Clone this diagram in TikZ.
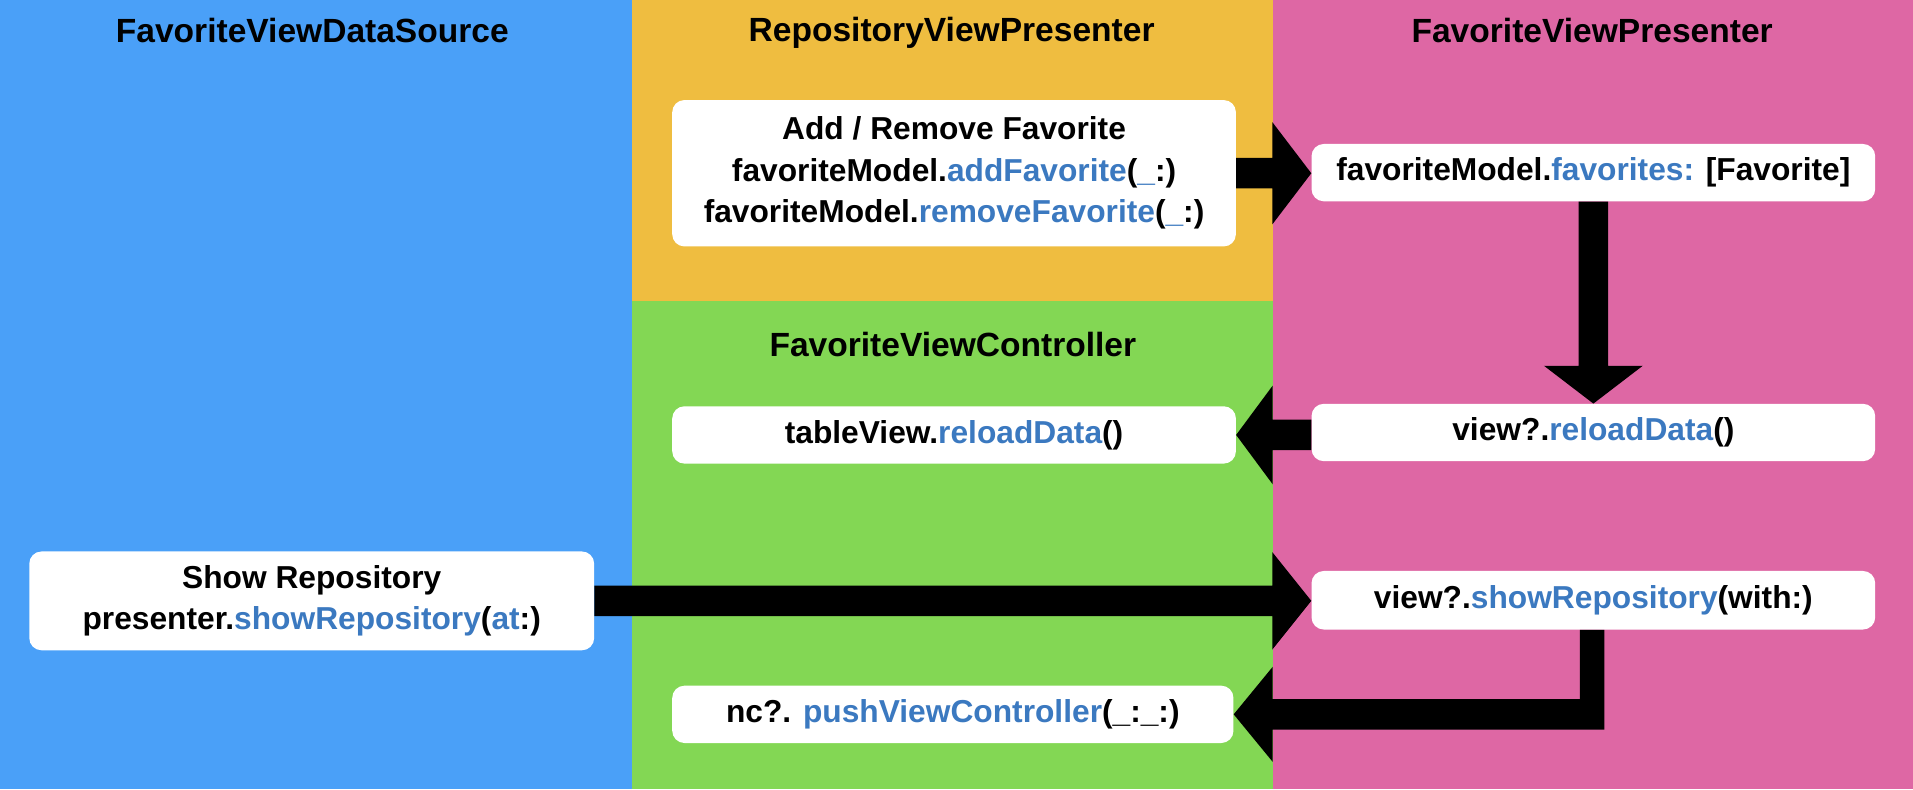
\documentclass[tikz,border=0pt]{standalone}
\usepackage{fontspec}
\setmainfont{Liberation Sans}
\usetikzlibrary{calc}
\definecolor{panelblue}{RGB}{74,160,248}
\definecolor{panelorange}{RGB}{239,189,64}
\definecolor{panelgreen}{RGB}{131,215,84}
\definecolor{panelpink}{RGB}{222,103,164}
\definecolor{codeblue}{RGB}{59,121,192}
\newcommand{\cb}[1]{\textcolor{codeblue}{#1}}
\tikzset{
  title/.style={font=\fontsize{27.5}{32}\selectfont\bfseries, inner sep=0pt},
  card/.style={fill=white, rounded corners=10pt, inner sep=0pt, align=center,
    font=\fontsize{26}{34}\selectfont\bfseries},
  fat/.style={fill=black}
}
\begin{document}
\begin{tikzpicture}[x=1pt,y=-1pt]
\useasboundingbox (0,0) rectangle (1568,647);
% panels
\fill[panelblue] (0,0) rectangle (518,647);
\fill[panelorange] (518,0) rectangle (1043,247);
\fill[panelgreen] (518,247) rectangle (1043,647);
\fill[panelpink] (1043,0) rectangle (1568,647);
% titles
\node[title] (t1) at (256,25) {FavoriteViewDataSource};
\node[title] (t2) at (780,27) {RepositoryViewPresenter};
\node[title] (t3) at (1305,25) {FavoriteViewPresenter};
\node[title] (t4) at (781,282) {FavoriteViewController};
% cards
\node[card, minimum width=462pt, minimum height=120pt] (add) at (782,142)
  {Add / Remove Favorite\\favoriteModel.\cb{addFavorite}(\cb{\_}:)\\favoriteModel.\cb{removeFavorite}(\cb{\_}:)};
\node[card, minimum width=462pt, minimum height=47pt] (fav) at (1306,141.5)
  {favoriteModel.\cb{favorites:} [Favorite]};
\node[card, minimum width=462pt, minimum height=47pt] (tv) at (782,356.5)
  {tableView.\cb{reloadData}()};
\node[card, minimum width=462pt, minimum height=47pt] (rel) at (1306,354.5)
  {view?.\cb{reloadData}()};
\node[card, minimum width=463pt, minimum height=81pt] (show) at (255.5,492.5)
  {Show Repository\\presenter.\cb{showRepository}(\cb{at}:)};
\node[card, minimum width=462pt, minimum height=48pt] (vsr) at (1306,492)
  {view?.\cb{showRepository}(with:)};
\node[card, minimum width=460pt, minimum height=47pt] (push) at (781,585.5)
  {nc?. \cb{pushViewController}(\_:\_:)};
% arrow add -> fav
\coordinate (a1s) at (add.east);
\coordinate (a1e) at (add.east -| fav.west);
\fill[fat] ($(a1s)+(0,-12.5)$) -- ($(a1e)+(-32,-12.5)$) -- ($(a1e)+(-32,-42)$)
  -- (a1e) -- ($(a1e)+(-32,42)$) -- ($(a1e)+(-32,12.5)$) -- ($(a1s)+(0,12.5)$) -- cycle;
% arrow fav -> rel (down)
\coordinate (a2s) at (fav.south);
\coordinate (a2e) at (fav.south |- rel.north);
\fill[fat] ($(a2s)+(-12,0)$) -- ($(a2e)+(-12,-31)$) -- ($(a2e)+(-40.5,-31)$)
  -- (a2e) -- ($(a2e)+(40.5,-31)$) -- ($(a2e)+(12,-31)$) -- ($(a2s)+(12,0)$) -- cycle;
% arrow rel -> tv (left)
\coordinate (a3e) at (tv.east);
\coordinate (a3s) at (tv.east -| rel.west);
\fill[fat] ($(a3s)+(0,-12.5)$) -- ($(a3e)+(30,-12.5)$) -- ($(a3e)+(30,-40.5)$)
  -- (a3e) -- ($(a3e)+(30,40.5)$) -- ($(a3e)+(30,12.5)$) -- ($(a3s)+(0,12.5)$) -- cycle;
% arrow show -> vsr (right)
\coordinate (a4s) at (show.east);
\coordinate (a4e) at (show.east -| vsr.west);
\fill[fat] ($(a4s)+(0,-12.5)$) -- ($(a4e)+(-32,-12.5)$) -- ($(a4e)+(-32,-40)$)
  -- (a4e) -- ($(a4e)+(-32,40)$) -- ($(a4e)+(-32,12.5)$) -- ($(a4s)+(0,12.5)$) -- cycle;
% elbow arrow vsr -> push
\coordinate (a5s) at (vsr.south);
\coordinate (a5e) at (push.east);
\coordinate (a5c) at (vsr.south |- push.east);
\fill[fat] ($(a5s)+(-11,0)$) -- ($(a5c)+(-11,-12.5)$) -- ($(a5e)+(32,-12.5)$)
  -- ($(a5e)+(32,-39)$) -- (a5e) -- ($(a5e)+(32,39)$) -- ($(a5e)+(32,12.5)$)
  -- ($(a5c)+(9,12.5)$) -- ($(a5s)+(9,0)$) -- cycle;
\end{tikzpicture}
\end{document}
